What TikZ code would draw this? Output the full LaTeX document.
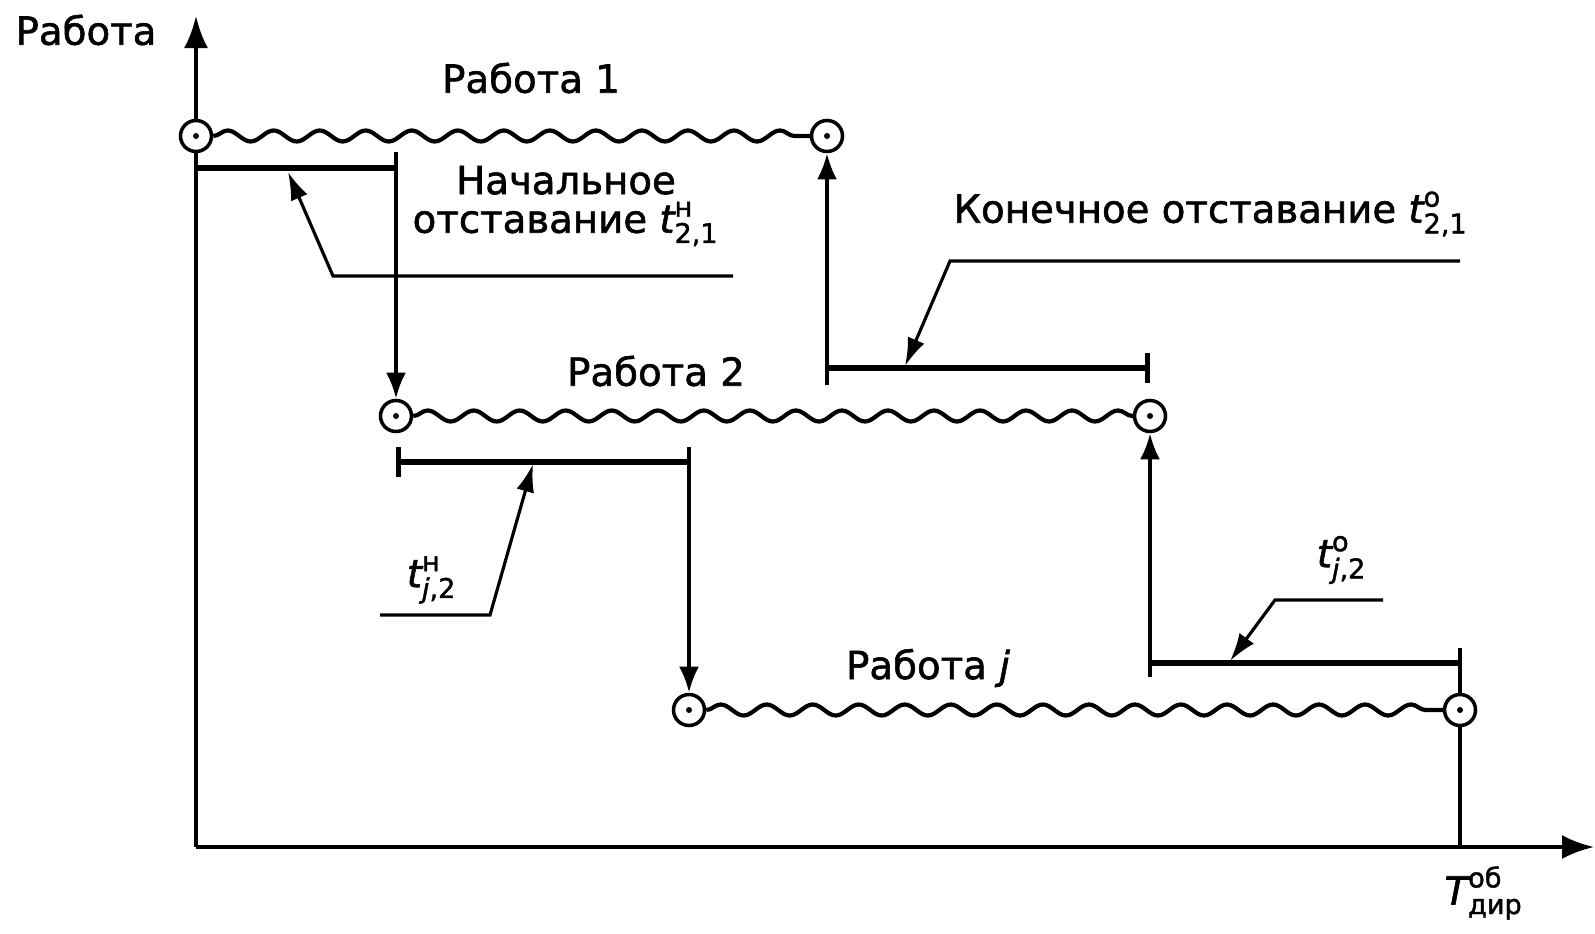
\documentclass[tikz,border=0pt]{standalone}
\usepackage{amsmath}
\usepackage{fontspec}
\setmainfont{DejaVu Sans}[FakeBold=1.5]
\usetikzlibrary{arrows.meta, decorations.pathmorphing}
\tikzset{
  %% Event circle with centre dot
  ev/.style={
    circle, draw=black, fill=white, line width=1.0pt,
    minimum size=0.31cm, inner sep=0pt,
    path picture={\fill[black] (path picture bounding box.center) circle (0.03cm);}
  },
  %% Wavy work line
  wave/.style={
    draw=black, line width=1.2pt,
    decorate, decoration={snake, amplitude=0.055cm, segment length=0.46cm}
  },
  %% Axis
  ax/.style={-{Latex[length=0.32cm,width=0.24cm]}, draw=black, line width=1.1pt},
  %% Link arrow between works
  arr/.style={-{Latex[length=0.26cm,width=0.2cm]}, draw=black, line width=1.1pt},
  %% Plain line
  ln/.style={draw=black, line width=1.1pt},
  %% Lag bracket
  brk/.style={draw=black, line width=1.5pt},
  %% Leader with arrow
  lead/.style={-{Latex[length=0.28cm,width=0.18cm]}, draw=black, line width=0.9pt},
  %% Text
  lbl/.style={font=\fontsize{11}{11}\selectfont, inner sep=0pt, align=center},
}

\begin{document}
\begin{tikzpicture}[x=0.01cm, y=-0.01cm]
  \useasboundingbox (0,0) rectangle (1595,934);

  %% Axes
  \coordinate (O) at (196,847);
  \coordinate (ytop) at (196,16);
  \coordinate (xend) at (1594,847);
  \draw[ax] (O) -- (ytop);
  \draw[ax] (O) -- (xend);
  \node[lbl] (ylab) at (86,30) {Работа};
  \node[lbl] (xlab) at (1484,893) {$\textit{T}^{\text{об}}_{\text{дир}}$};

  %% Works
  \node[ev] (s1) at (196,136) {};
  \node[ev] (e1) at (827,136) {};
  \node[ev] (s2) at (396,416) {};
  \node[ev] (e2) at (1150,416) {};
  \node[ev] (sj) at (689,710) {};
  \node[ev] (ej) at (1460,710) {};
  \draw[wave] (s1) -- (e1);
  \draw[wave] (s2) -- (e2);
  \draw[wave] (sj) -- (ej);
  \node[lbl] (w1) at (531,78) {Работа 1};
  \node[lbl] (w2) at (656,371) {Работа 2};
  \node[lbl] (wj) at (928,668) {Работа \textit{j}};

  %% Lag 1 -> 2, start
  \coordinate (b1l) at (196,168);
  \coordinate (b1r) at (396,168);
  \coordinate (b1t) at (396,152);
  \draw[brk] (b1l) -- (b1r);
  \draw[arr] (b1t) -- (s2);

  %% Lag 1 -> 2, finish
  \coordinate (b2l) at (827,368);
  \coordinate (b2r) at (1150,368);
  \coordinate (b2b) at (827,385);
  \draw[brk, -{Bar[width=0.3cm]}] (b2l) -- (b2r);
  \draw[arr] (b2b) -- (e1);

  %% Lag 2 -> j, start
  \coordinate (b3l) at (396,462);
  \coordinate (b3r) at (689,462);
  \coordinate (b3t) at (689,447);
  \draw[brk, {Bar[width=0.3cm]}-] (b3l) -- (b3r);
  \draw[arr] (b3t) -- (sj);

  %% Lag 2 -> j, finish
  \coordinate (b4l) at (1150,663);
  \coordinate (b4r) at (1460,663);
  \coordinate (b4b) at (1150,677);
  \coordinate (b4t) at (1460,648);
  \draw[brk] (b4l) -- (b4r);
  \draw[arr] (b4b) -- (e2);
  \draw[ln] (b4t) -- (ej);
  \draw[ln] (ej) -- (ej |- O);

  %% Leaders
  \node[lbl] (lag1) at (566,206)
    {Начальное\\отставание $\textit{t}^{\text{н}}_{\text{2,1}}$};
  \coordinate (l1t) at (288,172);
  \coordinate (l1b) at (333,276);
  \coordinate (l1e) at (733,276);
  \draw[lead] (l1e) -- (l1b) -- (l1t);

  \node[lbl] (lag2) at (1211,214)
    {Конечное отставание $\textit{t}^{\text{о}}_{\text{2,1}}$};
  \coordinate (l2t) at (905,366);
  \coordinate (l2b) at (950,261);
  \coordinate (l2e) at (1460,261);
  \draw[lead] (l2e) -- (l2b) -- (l2t);

  \node[lbl] (lag3) at (432,580) {$\textit{t}^{\text{н}}_{\textit{j}\text{,2}}$};
  \coordinate (l3t) at (533,464);
  \coordinate (l3b) at (490,615);
  \coordinate (l3e) at (380,615);
  \draw[lead] (l3e) -- (l3b) -- (l3t);

  \node[lbl] (lag4) at (1342,560) {$\textit{t}^{\text{о}}_{\textit{j}\text{,2}}$};
  \coordinate (l4t) at (1230,661);
  \coordinate (l4b) at (1275,600);
  \coordinate (l4e) at (1383,600);
  \draw[lead] (l4e) -- (l4b) -- (l4t);

\end{tikzpicture}
\end{document}
